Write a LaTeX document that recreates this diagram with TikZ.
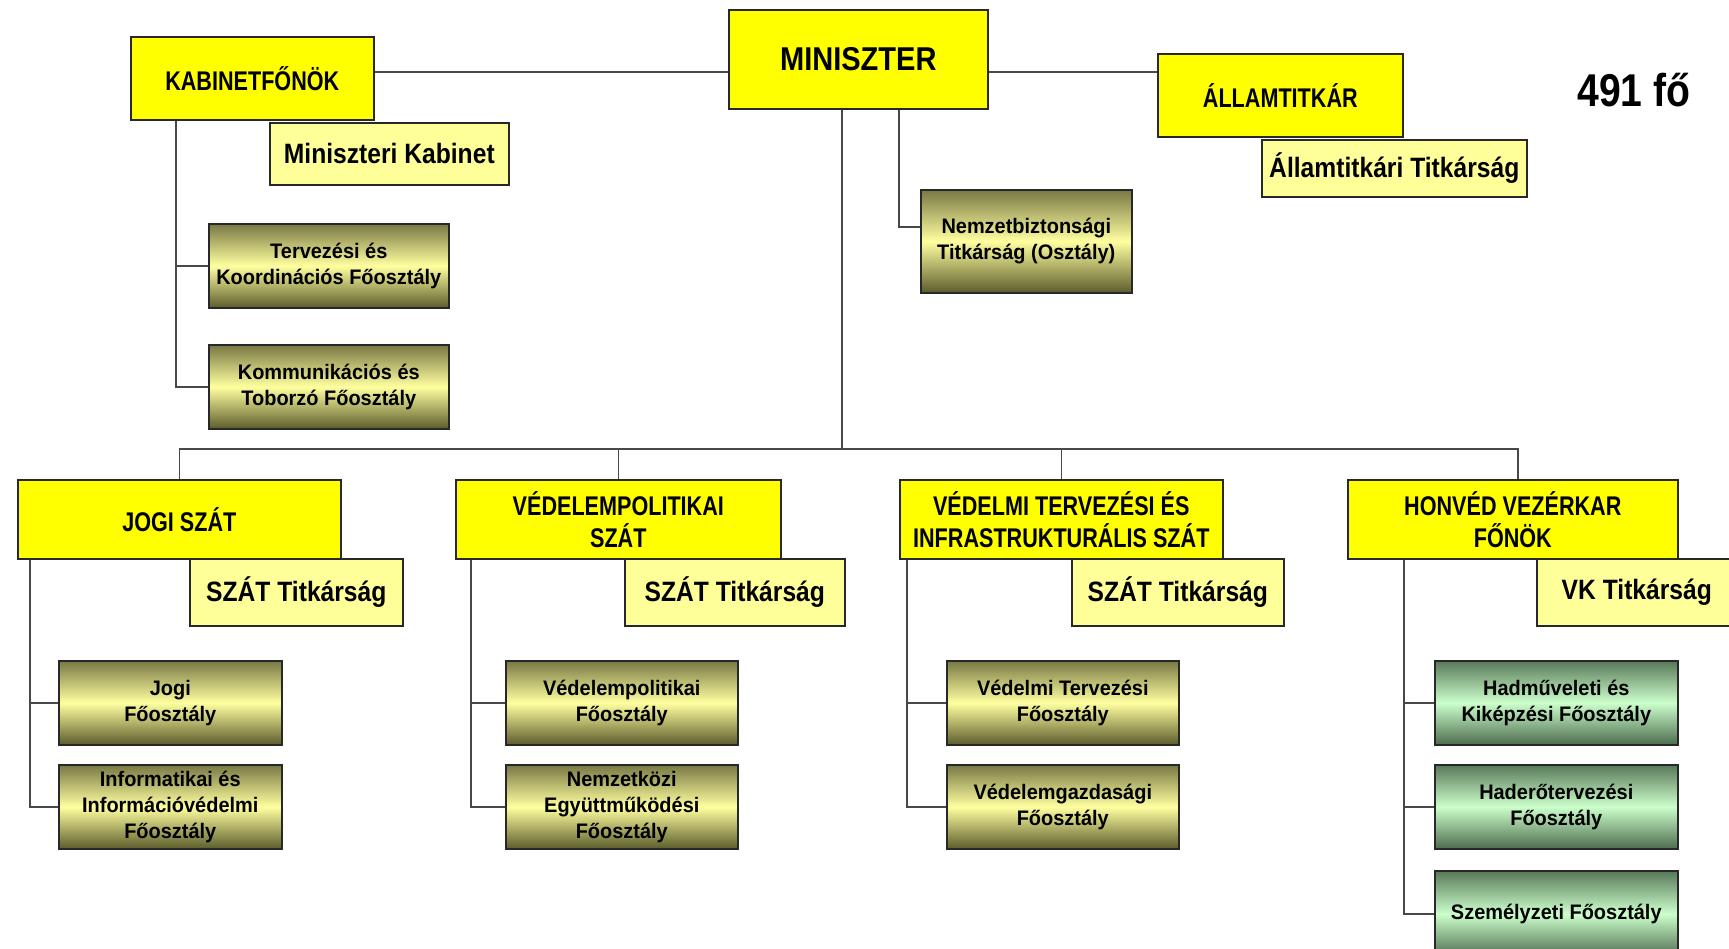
\documentclass[tikz,border=0pt]{standalone}
\usepackage{fontspec}
\setmainfont{Liberation Sans}
\newfontfamily\ttlf[FakeStretch=0.80]{Liberation Sans}
\newfontfamily\minf[FakeStretch=0.88]{Liberation Sans}
\newfontfamily\secf[FakeStretch=0.88]{Liberation Sans}
\newfontfamily\subf[FakeStretch=0.95]{Liberation Sans}
\newfontfamily\cntf[FakeStretch=0.85]{Liberation Sans}
\definecolor{ttlyel}{RGB}{255,255,0}
\definecolor{secyel}{RGB}{255,255,153}
\definecolor{olvtop}{RGB}{120,120,68}
\definecolor{olvmid}{RGB}{255,255,160}
\definecolor{olvbot}{RGB}{92,92,44}
\definecolor{grntop}{RGB}{88,120,88}
\definecolor{grnmid}{RGB}{204,255,204}
\definecolor{grnbot}{RGB}{78,108,78}
\definecolor{edge}{RGB}{40,40,40}
\definecolor{conn}{RGB}{72,72,72}
\tikzset{
  box/.style={draw=edge, line width=1.6pt, inner sep=0pt, anchor=north west, align=center, text=black},
  ttlbox/.style={box, fill=ttlyel, font=\ttlf\bfseries\fontsize{27}{32}\selectfont},
  secbox/.style={box, fill=secyel, font=\secf\bfseries\fontsize{28}{32}\selectfont},
  olvbox/.style={box, top color=olvtop, bottom color=olvbot, middle color=olvmid, font=\subf\bfseries\fontsize{21}{26}\selectfont},
  grnbox/.style={box, top color=grntop, bottom color=grnbot, middle color=grnmid, font=\subf\bfseries\fontsize{21}{26}\selectfont},
  link/.style={draw=conn, line width=1.6pt}
}
\begin{document}
\begin{tikzpicture}[x=1pt,y=-1pt]
\useasboundingbox (0,0) rectangle (1729,949);
\fill[white] (0,0) rectangle (1729,949);

% nodes
\node[ttlbox, minimum width=259pt, minimum height=99pt, font=\minf\bfseries\fontsize{33}{38}\selectfont] (min) at (728,9) {MINISZTER};
\node[ttlbox, minimum width=243pt, minimum height=83pt] (kab) at (130,36) {KABINETFŐNÖK};
\node[secbox, minimum width=239pt, minimum height=62pt] (mkab) at (269,122) {Miniszteri Kabinet};
\node[ttlbox, minimum width=245pt, minimum height=83pt] (all) at (1157,53) {ÁLLAMTITKÁR};
\node[secbox, minimum width=265pt, minimum height=57pt] (atit) at (1261,139) {Államtitkári Titkárság};
\node[font=\cntf\bfseries\fontsize{46}{50}\selectfont, inner sep=0pt] (cnt) at (1634,90) {491 fő};

\node[olvbox, minimum width=211pt, minimum height=103pt] (nb) at (920,189) {Nemzetbiztonsági\\Titkárság (Osztály)};
\node[olvbox, minimum width=240pt, minimum height=84pt] (terv) at (208,223) {Tervezési és\\Koordinációs Főosztály};
\node[olvbox, minimum width=240pt, minimum height=84pt] (komm) at (208,344) {Kommunikációs és\\Toborzó Főosztály};

\coordinate (hl) at (0,72);
\coordinate (kx) at (176,0);
\coordinate (nx) at (899,0);
\coordinate (mx) at (842,0);
\coordinate (bus) at (0,449);
\coordinate (hx) at (1518,0);
\coordinate (jx) at (30,0);
\coordinate (vpx) at (471,0);
\coordinate (vtx) at (907,0);
\coordinate (hvx) at (1404,0);

\node[ttlbox, minimum width=323pt, minimum height=79pt] (jogi) at (17,479) {JOGI SZÁT};
\node[ttlbox, minimum width=325pt, minimum height=79pt] (vp) at (455,479) {VÉDELEMPOLITIKAI\\SZÁT};
\node[ttlbox, minimum width=323pt, minimum height=79pt] (vti) at (899,479) {VÉDELMI TERVEZÉSI ÉS\\INFRASTRUKTURÁLIS SZÁT};
\node[ttlbox, minimum width=330pt, minimum height=79pt] (hvk) at (1347,479) {HONVÉD VEZÉRKAR\\FŐNÖK};

\node[olvbox, minimum width=223pt, minimum height=84pt] (jf) at (58,660) {Jogi\\Főosztály};
\node[olvbox, minimum width=223pt, minimum height=84pt] (inf) at (58,764) {Informatikai és\\Információvédelmi\\Főosztály};
\node[olvbox, minimum width=232pt, minimum height=84pt] (vpf) at (505,660) {Védelempolitikai\\Főosztály};
\node[olvbox, minimum width=232pt, minimum height=84pt] (nemz) at (505,764) {Nemzetközi\\Együttműködési\\Főosztály};
\node[olvbox, minimum width=232pt, minimum height=84pt] (vtf) at (946,660) {Védelmi Tervezési\\Főosztály};
\node[olvbox, minimum width=232pt, minimum height=84pt] (vgf) at (946,764) {Védelemgazdasági\\Főosztály};
\node[grnbox, minimum width=243pt, minimum height=84pt] (had) at (1434,660) {Hadműveleti és\\Kiképzési Főosztály};
\node[grnbox, minimum width=243pt, minimum height=84pt] (hdt) at (1434,764) {Haderőtervezési\\Főosztály};
\node[grnbox, minimum width=243pt, minimum height=86pt] (szem) at (1434,870) {Személyzeti Főosztály};

% connectors
\draw[link] (kab.east |- hl) -- (min.west |- hl);
\draw[link] (min.east |- hl) -- (all.west |- hl);
\draw[link] (kab.south -| kx) |- (komm.west);
\draw[link] (kx |- terv.west) -- (terv.west);
\draw[link] (min.south -| nx) |- ([yshift=14pt]nb.west);
\draw[link] (min.south -| mx) -- (mx |- bus);
\draw[link] (jogi.north) |- (bus -| hx) -- (hvk.north -| hx);
\draw[link] (vp.north) -- (vp.north |- bus);
\draw[link] (vti.north) -- (vti.north |- bus);
\draw[link] (jogi.south -| jx) |- (inf.west);
\draw[link] (jx |- jf.west) -- (jf.west);
\draw[link] (vp.south -| vpx) |- (nemz.west);
\draw[link] (vpx |- vpf.west) -- (vpf.west);
\draw[link] (vti.south -| vtx) |- (vgf.west);
\draw[link] (vtx |- vtf.west) -- (vtf.west);
\draw[link] (hvk.south -| hvx) |- (szem.west);
\draw[link] (hvx |- had.west) -- (had.west);
\draw[link] (hvx |- hdt.west) -- (hdt.west);

% secretary boxes
\node[secbox, minimum width=213pt, minimum height=67pt] (st1) at (189,558) {SZÁT Titkárság};
\node[secbox, minimum width=220pt, minimum height=67pt] (st2) at (624,558) {SZÁT Titkárság};
\node[secbox, minimum width=212pt, minimum height=67pt] (st3) at (1071,558) {SZÁT Titkárság};
\node[secbox, minimum width=200pt, minimum height=67pt] (vkt) at (1536,558) {VK Titkárság};
\end{tikzpicture}
\end{document}
